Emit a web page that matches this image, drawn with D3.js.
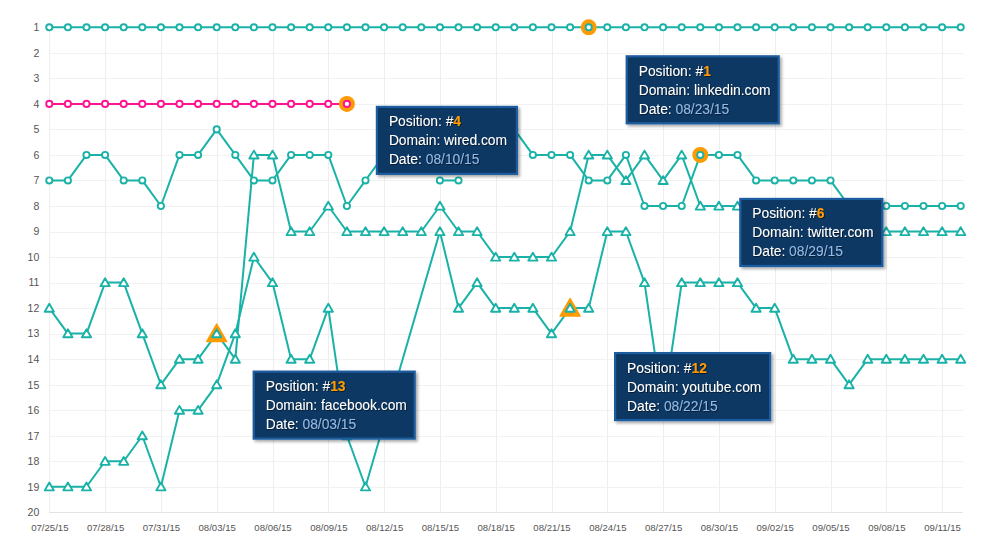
<!DOCTYPE html>
<html>
<head>
<meta charset="utf-8">
<script src="https://cdn.jsdelivr.net/npm/d3@7"></script>
<style>
  html, body { margin: 0; padding: 0; background: #fff; }
  svg { display: block; font-family: "Liberation Sans", Arial, sans-serif; }
</style>
</head>
<body>
<svg id="chart" width="1002" height="558"></svg>
<script>
// ---------- DATA ----------
const startDate = new Date(2015, 6, 25);
const endDate = new Date(2015, 8, 13); // exclusive -> last day 09/12/15
const dates = d3.timeDay.range(startDate, endDate);

const yTicks = [1,2,3,4,5,6,7,8,9,10,11,12,13,14,15,16,17,18,19,20];
const xTickLabels = ["07/25/15","07/28/15","07/31/15","08/03/15","08/06/15","08/09/15","08/12/15","08/15/15","08/18/15","08/21/15","08/24/15","08/27/15","08/30/15","09/02/15","09/05/15","09/08/15","09/11/15"];

const linkedin = [1,1,1,1,1,1,1,1,1,1, 1,1,1,1,1,1,1,1,1,1, 1,1,1,1,1,1,1,1,1,1, 1,1,1,1,1,1,1,1,1,1, 1,1,1,1,1,1,1,1,1,1];
const wired    = [4,4,4,4,4,4,4,4,4,4, 4,4,4,4,4,4,4,null,null,null, null,null,null,null,null,null,null,null,null,null, null,null,null,null,null,null,null,null,null,null, null,null,null,null,null,null,null,null,null,null];
const twitter  = [7,7,6,6,7,7,8,6,6,5, 6,7,7,6,6,6,8,7,6,5, 5,5,5,5,5,5,6,6,6,7, 7,6,8,8,8,6,6,6,7,7, 7,7,7,8,8,8,8,8,8,8];
const other    = [null,null,null,null,null,null,null,null,null,null, null,null,null,null,null,null,null,null,null,null, null,7,7,null,null,null,null,null,null,null, null,null,null,null,null,null,null,null,null,null, null,null,null,null,null,null,null,null,null,null];
const facebook = [12,13,13,11,11,13,15,14,14,13, 14,6,6,9,9,8,9,9,9,9, 9,8,9,9,10,10,10,10,9,6, 6,7,6,7,6,8,8,8,8,8, 8,8,9,9,9,9,9,9,9,9];
const youtube  = [19,19,19,18,18,17,19,16,16,15, 13,10,11,14,14,12,17,19,null,null, null,9,12,11,12,12,12,13,12,12, 9,9,11,16,11,11,11,11,12,12, 14,14,14,15,14,14,14,14,14,14];

const seriesNames  = ["other","twitter","youtube","facebook","wired","linkedin"];
const seriesValues = [other, twitter, youtube, facebook, wired, linkedin];
const seriesDomains = ["", "twitter.com", "youtube.com", "facebook.com", "wired.com", "linkedin.com"];
const seriesShapes = ["circle","circle","triangle","triangle","circle","circle"];
const seriesColors = ["#1ab2a8","#1ab2a8","#1ab2a8","#1ab2a8","#ff1493","#1ab2a8"];

// highlighted point (index into dates) per series, and tooltip box placement
const highlights = [
  {series: "linkedin", index: 29, dx: 38, dy: 29, w: 152},
  {series: "wired",    index: 16, dx: 30, dy: 3,  w: 140},
  {series: "twitter",  index: 35, dx: 40, dy: 44, w: 142},
  {series: "facebook", index: 9,  dx: 37, dy: 38, w: 161},
  {series: "youtube",  index: 28, dx: 45, dy: 45, w: 155}
];

// ---------- CHART ----------
const svg = d3.select("#chart");
const x = d3.scaleTime().domain([dates[0], dates[dates.length-1]]).range([49.3, 960.7]);
const y = d3.scaleLinear().domain([1, 20]).range([27.3, 512.3]);
const fmt = d3.timeFormat("%m/%d/%y");
const xTickDates = xTickLabels.map(s => d3.timeParse("%m/%d/%y")(s));

// grid
const grid = svg.append("g");
grid.selectAll(".hg").data(yTicks).join("line")
  .attr("x1", 49).attr("x2", 963)
  .attr("y1", d => Math.round(y(d)) + 0.5).attr("y2", d => Math.round(y(d)) + 0.5)
  .attr("stroke", d => d === 20 ? "#e3e3e3" : "#f2f2f2").attr("stroke-width", 1);
grid.selectAll(".vg").data(xTickDates).join("line")
  .attr("x1", d => Math.round(x(d)) + 0.5).attr("x2", d => Math.round(x(d)) + 0.5)
  .attr("y1", y(1)).attr("y2", y(20))
  .attr("stroke", "#eeeeee").attr("stroke-width", 1);

// y axis labels
const yAxis = d3.axisLeft(y).tickValues(yTicks).tickSize(0).tickPadding(10).tickFormat(d3.format("d"));
const yg = svg.append("g").attr("transform", "translate(49.3,0)").call(yAxis);
yg.select(".domain").remove();
yg.selectAll("text").attr("font-size", "10.5px").attr("fill", "#555")
  .attr("font-family", '"Liberation Sans", Arial, sans-serif');

// x axis labels
const xAxis = d3.axisBottom(x).tickValues(xTickDates).tickSize(0).tickPadding(12).tickFormat(fmt);
const xg = svg.append("g").attr("transform", "translate(0,512.3)").call(xAxis);
xg.select(".domain").remove();
xg.selectAll("text").attr("font-size", "9.6px").attr("fill", "#555")
  .attr("font-family", '"Liberation Sans", Arial, sans-serif');

const series = seriesNames.map((name, k) => ({
  name, color: seriesColors[k], shape: seriesShapes[k], domain: seriesDomains[k],
  points: dates.map((d, i) => ({date: d, value: seriesValues[k][i], i})).filter(p => p.value != null)
}));

const line = d3.line().x(p => x(p.date)).y(p => y(p.value));

const triPath = (hw, top, bot) => `M0,${-top}L${hw},${bot}L${-hw},${bot}Z`;

// lines
svg.append("g").selectAll("path").data(series).join("path")
  .attr("d", s => line(s.points))
  .attr("fill", "none").attr("stroke", s => s.color).attr("stroke-width", 2)
  .attr("stroke-linejoin", "round");

// highlight halos (under markers)
const hl = svg.append("g");
highlights.forEach(h => {
  const s = series.find(s => s.name === h.series);
  const p = s.points.find(p => p.i === h.index);
  const g = hl.append("g").attr("transform", `translate(${x(p.date)},${y(p.value)})`);
  if (s.shape === "circle") {
    g.append("circle").attr("r", 8).attr("fill", "#ff9a00");
  } else {
    g.append("path").attr("d", triPath(10, 9.5, 8)).attr("fill", "#ff9a00")
      .attr("stroke", "#ff9a00").attr("stroke-width", 1.5).attr("stroke-linejoin", "round");
  }
});

// markers
series.forEach(s => {
  const g = svg.append("g");
  if (s.shape === "circle") {
    g.selectAll("circle").data(s.points).join("circle")
      .attr("cx", p => x(p.date)).attr("cy", p => y(p.value)).attr("r", 3.1)
      .attr("fill", "#fff").attr("stroke", s.color).attr("stroke-width", 1.9);
  } else {
    g.selectAll("path").data(s.points).join("path")
      .attr("transform", p => `translate(${x(p.date)},${y(p.value)})`)
      .attr("d", triPath(4.6, 4.3, 3.6))
      .attr("fill", "#fff").attr("stroke", s.color).attr("stroke-width", 1.9)
      .attr("stroke-linejoin", "round");
  }
});

// tooltips
const defs = svg.append("defs");
const f = defs.append("filter").attr("id", "shadow").attr("x", "-10%").attr("y", "-10%").attr("width", "130%").attr("height", "140%");
f.append("feDropShadow").attr("dx", 2).attr("dy", 2).attr("stdDeviation", 1.6).attr("flood-color", "#000").attr("flood-opacity", 0.35);
const tf = defs.append("filter").attr("id", "tshadow").attr("x", "-5%").attr("y", "-20%").attr("width", "115%").attr("height", "150%");
tf.append("feDropShadow").attr("dx", 0.8).attr("dy", 0.8).attr("stdDeviation", 0.4).attr("flood-color", "#000").attr("flood-opacity", 0.6);

const tips = svg.append("g");
highlights.forEach(h => {
  const s = series.find(s => s.name === h.series);
  const p = s.points.find(p => p.i === h.index);
  const bx = x(p.date) + h.dx, by = y(p.value) + h.dy;
  const g = tips.append("g").attr("transform", `translate(${bx},${by})`);
  g.append("rect").attr("x", 0).attr("y", 0).attr("width", h.w).attr("height", 67)
    .attr("fill", "#0f3863").attr("stroke", "#1f5d9f").attr("stroke-width", 2.2)
    .attr("filter", "url(#shadow)");
  const t = g.append("g").attr("font-size", "13.8px").attr("fill", "#fff").attr("filter", "url(#tshadow)");
  const t1 = t.append("text").attr("x", 12).attr("y", 19.5);
  t1.append("tspan").text("Position: #");
  t1.append("tspan").attr("fill", "#ff9a00").attr("font-weight", "bold").text(p.value);
  t.append("text").attr("x", 12).attr("y", 38.5).text("Domain: " + s.domain);
  const t3 = t.append("text").attr("x", 12).attr("y", 57.5);
  t3.append("tspan").text("Date: ");
  t3.append("tspan").attr("fill", "#93b9e6").text(fmt(p.date));
});
</script>
</body>
</html>
